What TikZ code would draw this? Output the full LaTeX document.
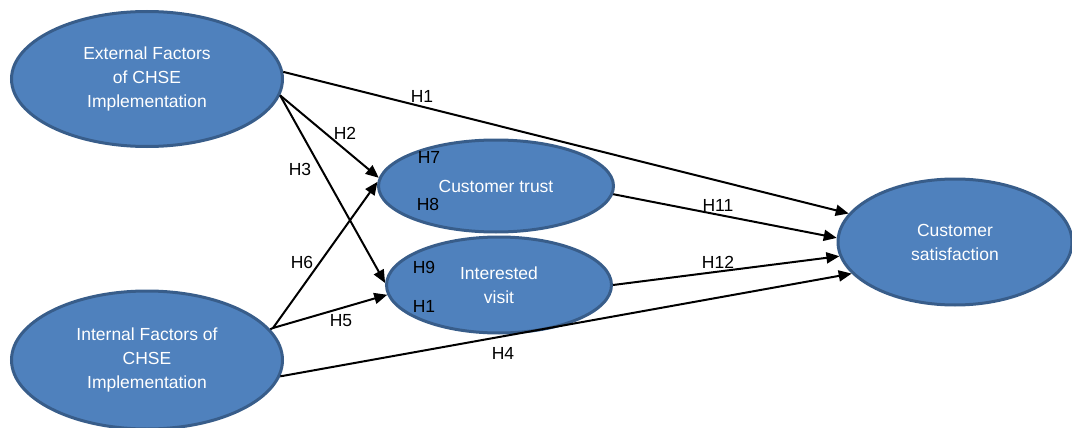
\documentclass[tikz,border=0pt]{standalone}
\usepackage{fontspec}
\setmainfont{Liberation Sans}
\usetikzlibrary{shapes.geometric,arrows.meta}
\definecolor{fillblue}{HTML}{4F81BD}
\definecolor{edgeblue}{HTML}{385D8A}
\begin{document}
\begin{tikzpicture}[x=1pt,y=-1pt,
    factor/.style={ellipse,draw=edgeblue,fill=fillblue,line width=3pt,
      text=white,align=center,inner sep=0pt,font=\fontsize{17.5}{24}\selectfont},
    hyp/.style={font=\fontsize{17.5}{20}\selectfont,inner sep=0pt}]
  \useasboundingbox (0,0) rectangle (1072,428);
  \node[factor,minimum width=271,minimum height=135] (ext) at (147,79)
    {External Factors\\of CHSE\\Implementation};
  \node[factor,minimum width=271,minimum height=138] (int) at (147,360)
    {Internal Factors of\\CHSE\\Implementation};
  \node[factor,minimum width=235,minimum height=92] (trust) at (496,186)
    {Customer trust};
  \node[factor,minimum width=225,minimum height=96] (visit) at (499,285)
    {Interested\\visit};
  \node[factor,minimum width=234,minimum height=126] (sat) at (955,242)
    {Customer\\satisfaction};
  \coordinate (intj) at (273,328);
  \begin{scope}[line width=2pt,-{Triangle[length=13pt,width=11pt]}]
    \draw (ext.3) to (sat.165);
    \draw (ext.-7) to (trust.176);
    \draw (ext.-7) to (visit.179);
    \draw (intj) to (trust.178);
    \draw (intj) to (visit.185);
    \draw (int.-7) to (sat.197);
    \draw (trust.-4) to (sat.178);
    \draw (visit.0) to (sat.187);
  \end{scope}
  \draw[line width=2pt] (int.14) -- (intj);
  \node[hyp] (h1) at (422,96) {H1};
  \node[hyp] (h2) at (345,133) {H2};
  \node[hyp] (h3) at (300,169) {H3};
  \node[hyp] (h4) at (503,353) {H4};
  \node[hyp] (h5) at (341,321) {H5};
  \node[hyp] (h6) at (302,262) {H6};
  \node[hyp] (h7) at (429,157) {H7};
  \node[hyp] (h8) at (428,204) {H8};
  \node[hyp] (h9) at (424,267) {H9};
  \node[hyp] (h10) at (424,306) {H1};
  \node[hyp] (h11) at (718,205) {H11};
  \node[hyp] (h12) at (718,262) {H12};
\end{tikzpicture}
\end{document}
